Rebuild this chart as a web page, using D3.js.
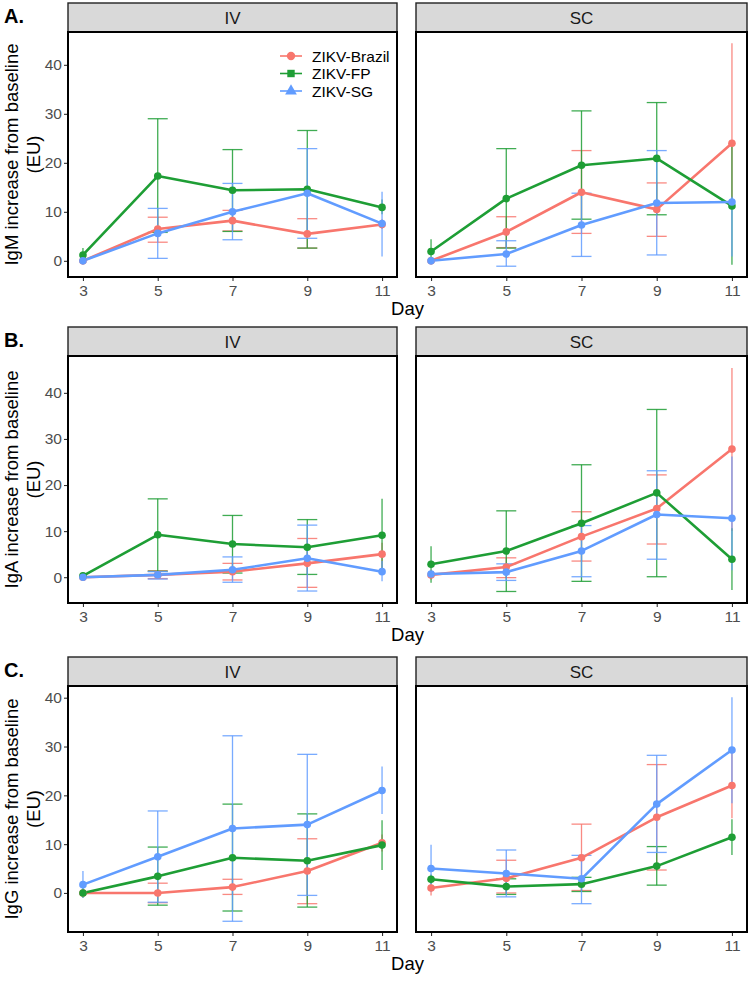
<!DOCTYPE html>
<html><head><meta charset="utf-8">
<script src="https://cdn.jsdelivr.net/npm/d3@7"></script>
<style>body{margin:0;background:#fff} svg{display:block}</style>
</head><body>
<script>
// ---------- DATA ----------
const days = [3, 5, 7, 9, 11];
const strains = ["ZIKV-Brazil", "ZIKV-FP", "ZIKV-SG"];
const routes = ["IV", "SC"];
const yTickValues = [0, 10, 20, 30, 40];
const xTickValues = [3, 5, 7, 9, 11];
const panelLetters = ["A.", "B.", "C."];
const yTitles = ["IgM increase from baseline", "IgA increase from baseline", "IgG increase from baseline"];
const yUnit = "(EU)";
const xTitle = "Day";

// rows: Brazil, FP, SG ; columns: days
// IgM - IV
const igmIvMean = [[0, 6.5, 8.2, 5.5, 7.4], [1.2, 17.3, 14.4, 14.6, 10.9], [0, 5.6, 10.0, 13.8, 7.6]];
const igmIvLow  = [[-0.3, 3.8, 6.1, 2.6, 6.5], [0.2, 5.8, 6.0, 2.6, 9.5], [-0.3, 0.5, 4.3, 4.6, 0.9]];
const igmIvHigh = [[0.3, 8.9, 10.3, 8.6, 8.5], [2.6, 29.0, 22.7, 26.6, 12.5], [0.3, 10.7, 15.8, 22.9, 14.1]];
// IgM - SC
const igmScMean = [[0, 5.9, 14.0, 10.5, 24.0], [1.9, 12.7, 19.5, 20.9, 11.2], [0, 1.4, 7.3, 11.8, 12.0]];
const igmScLow  = [[-0.3, 2.7, 5.6, 5.0, 12.0], [0, 2.6, 8.5, 9.4, -0.8], [-0.3, -1.1, 0.9, 1.2, 0.9]];
const igmScHigh = [[0.3, 9.0, 22.5, 15.9, 44.4], [4.4, 22.9, 30.6, 32.3, 23.3], [0.3, 4.1, 13.8, 22.5, 13.1]];
// IgA - IV
const igaIvMean = [[0, 0.5, 1.2, 3.0, 5.0], [0.3, 9.2, 7.2, 6.5, 9.1], [0, 0.5, 1.6, 4.1, 1.2]];
const igaIvLow  = [[-0.2, -0.3, -0.6, -2.2, 2.0], [0, 1.3, 0.9, 0.6, 1.2], [-0.2, -0.4, -1.1, -3.0, -0.9]];
const igaIvHigh = [[0.2, 1.4, 3.0, 8.4, 7.5], [0.6, 17.0, 13.4, 12.5, 17.0], [0.2, 1.2, 4.4, 11.3, 3.5]];
// IgA - SC
const igaScMean = [[0.5, 2.2, 8.8, 14.9, 27.8], [2.8, 5.7, 11.7, 18.3, 3.9], [0.7, 1.1, 5.7, 13.6, 12.8]];
const igaScLow  = [[-0.5, -0.1, 3.5, 7.2, 10.0], [-1.2, -3.1, -0.9, 0.1, -2.8], [0.2, -0.7, 0.1, 3.9, 1.5]];
const igaScHigh = [[1.5, 4.2, 14.2, 22.2, 45.4], [6.7, 14.4, 24.4, 36.4, 10.6], [1.2, 2.9, 11.2, 23.1, 26.2]];
// IgG - IV
const iggIvMean = [[0, 0, 1.2, 4.5, 10.3], [0, 3.4, 7.2, 6.6, 9.8], [1.7, 7.4, 13.2, 14.0, 21.0]];
const iggIvLow  = [[-0.3, -2.0, -0.3, -2.2, 8.5], [-1.0, -2.5, -3.7, -2.9, 4.7], [-1.0, -1.9, -5.8, -0.5, 16.2]];
const iggIvHigh = [[0.3, 2.0, 2.8, 11.1, 12.0], [1.0, 9.4, 18.2, 16.2, 14.9], [4.5, 16.8, 32.2, 28.4, 25.9]];
// IgG - SC
const iggScMean = [[1.0, 3.0, 7.2, 15.5, 22.0], [2.8, 1.3, 1.8, 5.5, 11.4], [5.0, 4.0, 2.9, 18.2, 29.3]];
const iggScLow  = [[-0.5, 0.0, 0.5, 4.7, 15.3], [1.8, -0.3, 0.3, 1.6, 7.8], [0.2, -0.8, -2.2, 8.3, 18.4]];
const iggScHigh = [[2.0, 6.7, 14.1, 26.3, 29.0], [3.8, 2.9, 3.2, 9.5, 15.1], [9.9, 8.8, 7.7, 28.2, 40.1]];

// ---------- LAYOUT / STYLE ----------
const colors = ["#F8766D", "#1E9E35", "#619CFF"];
const W = 750, H = 981;
const FONT = "'Liberation Sans', Arial, Helvetica, sans-serif";
const panelX = [[68, 397], [416, 747]];
const rowLayout = [
  { stripTop: 3,   plotTop: 32,  plotBottom: 277, ydom: [-3.3, 46.7] },
  { stripTop: 327, plotTop: 356, plotBottom: 603, ydom: [-5.6, 48.0] },
  { stripTop: 657, plotTop: 686, plotBottom: 932, ydom: [-8.0, 42.4] }
];
const rowData = [
  [[igmIvMean, igmIvLow, igmIvHigh], [igmScMean, igmScLow, igmScHigh]],
  [[igaIvMean, igaIvLow, igaIvHigh], [igaScMean, igaScLow, igaScHigh]],
  [[iggIvMean, iggIvLow, iggIvHigh], [iggScMean, iggScLow, iggScHigh]]
];

const svg = d3.select("body").append("svg").attr("width", W).attr("height", H)
  .style("font-family", FONT);

rowLayout.forEach((row, ri) => {
  const y = d3.scaleLinear().domain(row.ydom).range([row.plotBottom, row.plotTop]);

  // panel letter
  svg.append("text").attr("x", 4).attr("y", row.stripTop + 20)
    .attr("font-size", 20).attr("font-weight", "bold").attr("fill", "#000")
    .text(panelLetters[ri]);

  // y title (two lines)
  const yc = (row.plotTop + row.plotBottom) / 2;
  svg.append("text").attr("transform", `translate(18,${yc}) rotate(-90)`)
    .attr("text-anchor", "middle").attr("font-size", 18.5).attr("fill", "#000")
    .text(yTitles[ri]);
  svg.append("text").attr("transform", `translate(40,${yc}) rotate(-90)`)
    .attr("text-anchor", "middle").attr("font-size", 18.5).attr("fill", "#000")
    .text(yUnit);

  routes.forEach((route, ci) => {
    const [x0, x1] = panelX[ci];
    const x = d3.scaleLinear().domain([2.6, 11.4]).range([x0, x1]);
    const g = svg.append("g");

    // strip
    g.append("rect").attr("x", x0).attr("y", row.stripTop)
      .attr("width", x1 - x0).attr("height", row.plotTop - row.stripTop)
      .attr("fill", "#d9d9d9").attr("stroke", "#222").attr("stroke-width", 1.4);
    g.append("text").attr("x", (x0 + x1) / 2).attr("y", (row.stripTop + row.plotTop) / 2)
      .attr("dy", "0.36em").attr("text-anchor", "middle").attr("font-size", 17)
      .attr("fill", "#1a1a1a").text(route);

    // x axis
    const xAxis = d3.axisBottom(x).tickValues(xTickValues).tickSize(4).tickPadding(4)
      .tickFormat(d3.format("d"));
    const xg = g.append("g").attr("transform", `translate(0,${row.plotBottom})`).call(xAxis);
    xg.select(".domain").remove();
    xg.selectAll("line").attr("stroke", "#333").attr("stroke-width", 1.1);
    xg.selectAll("text").attr("font-size", 15.5).attr("fill", "#4d4d4d")
      .attr("font-family", FONT);

    // y axis (left panels only)
    if (ci === 0) {
      const yAxis = d3.axisLeft(y).tickValues(yTickValues).tickSize(4).tickPadding(2);
      const yg = g.append("g").attr("transform", `translate(${x0},0)`).call(yAxis);
      yg.select(".domain").remove();
      yg.selectAll("line").attr("stroke", "#333").attr("stroke-width", 1.1);
      yg.selectAll("text").attr("font-size", 15.5).attr("fill", "#4d4d4d")
        .attr("font-family", FONT);
    }

    const [means, lows, highs] = rowData[ri][ci];

    // error bars
    strains.forEach((s, si) => {
      days.forEach((d, di) => {
        const eb = g.append("g").attr("stroke", colors[si]).attr("stroke-width", 1.3)
          .attr("stroke-opacity", 0.85);
        eb.append("line").attr("x1", x(d)).attr("x2", x(d))
          .attr("y1", y(lows[si][di])).attr("y2", y(highs[si][di]));
        if (di > 0 && di < days.length - 1) {
          [lows[si][di], highs[si][di]].forEach(v => {
            eb.append("line").attr("x1", x(d) - 10).attr("x2", x(d) + 10)
              .attr("y1", y(v)).attr("y2", y(v));
          });
        }
      });
    });

    // lines
    const line = d3.line().x((v, i) => x(days[i])).y(v => y(v));
    strains.forEach((s, si) => {
      g.append("path").datum(means[si]).attr("d", line).attr("fill", "none")
        .attr("stroke", colors[si]).attr("stroke-width", 2.6)
        .attr("stroke-linejoin", "round");
    });
    // points
    strains.forEach((s, si) => {
      g.selectAll(null).data(means[si]).enter().append("circle")
        .attr("cx", (v, i) => x(days[i])).attr("cy", v => y(v)).attr("r", 3.8)
        .attr("fill", colors[si]);
    });

    // panel border
    g.append("rect").attr("x", x0).attr("y", row.plotTop)
      .attr("width", x1 - x0).attr("height", row.plotBottom - row.plotTop)
      .attr("fill", "none").attr("stroke", "#000").attr("stroke-width", 2);

    // legend in first panel
    if (ri === 0 && ci === 0) {
      const lg = g.append("g");
      const shapes = [d3.symbolCircle, d3.symbolSquare, d3.symbolTriangle];
      strains.forEach((s, si) => {
        const ly = 56 + si * 17.5;
        lg.append("line").attr("x1", 280).attr("x2", 302).attr("y1", ly).attr("y2", ly)
          .attr("stroke", colors[si]).attr("stroke-width", 1.6);
        lg.append("path").attr("transform", `translate(291,${ly})`)
          .attr("d", d3.symbol().type(shapes[si]).size(si === 2 ? 60 : 55)())
          .attr("fill", colors[si]);
        lg.append("text").attr("x", 312).attr("y", ly).attr("dy", "0.36em")
          .attr("font-size", 15.5).attr("fill", "#000").text(s);
      });
    }
  });

  // x title
  svg.append("text").attr("x", (panelX[0][0] + panelX[1][1]) / 2).attr("y", row.plotBottom + 38)
    .attr("text-anchor", "middle").attr("font-size", 18.5).attr("fill", "#000").text(xTitle);
});
</script>
</body></html>
